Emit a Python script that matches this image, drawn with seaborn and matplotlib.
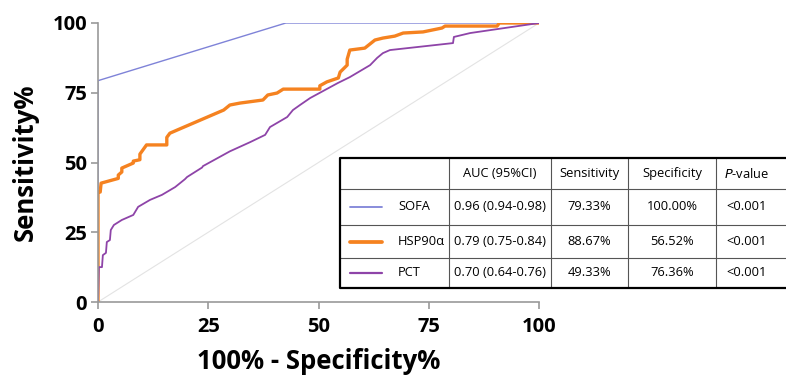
import pandas as pd
import numpy as np
import matplotlib
matplotlib.use("Agg")
import matplotlib.pyplot as plt
import seaborn as sns

sns.set_style("ticks")
plt.rcParams["font.family"] = ["Open Sans", "DejaVu Sans"]
plt.rcParams["text.color"] = "black"
plt.rcParams["axes.labelcolor"] = "black"
plt.rcParams["xtick.labelcolor"] = "black"
plt.rcParams["ytick.labelcolor"] = "black"

# ROC curve points (x = 100% - specificity, y = sensitivity)
sofa_x = [0, 0, 42.6, 100]
sofa_y = [0, 79.33, 100, 100]

hsp_x = [0, 0, 0.5, 0.7, 4.6, 4.6, 5.4, 5.4, 8.0, 8.0, 9.5, 9.5, 11.0, 11.0, 15.6, 15.6,
         16.3, 17.9, 28.5, 29.9, 32.2, 37.4, 38.5, 40.6, 42.0, 50.3, 50.3, 51.9, 54.5,
         54.9, 56.5, 56.5, 57.1, 60.5, 62.8, 64.6, 67.3, 69.2, 73.7, 78.0, 78.7, 90.5, 91.0, 100]
hsp_y = [0, 39.4, 39.4, 42.6, 44.3, 45.5, 46.6, 48.0, 49.8, 50.5, 51.0, 53.0, 56.3, 56.3, 56.3, 59.0,
         60.5, 61.6, 68.8, 70.6, 71.3, 72.4, 74.2, 74.9, 76.3, 76.3, 77.5, 78.9, 80.3,
         82.4, 84.9, 87.0, 90.3, 91.0, 93.9, 94.6, 95.3, 96.4, 96.8, 98.2, 98.9, 98.9, 100, 100]

pct_x = [0, 0.2, 0.9, 1.1, 1.8, 2.0, 2.7, 2.9, 3.6, 5.4, 8.0, 9.1, 11.8, 14.5, 17.5, 19.7,
         20.2, 23.6, 23.8, 29.9, 34.5, 37.9, 39.0, 42.9, 44.2, 45.8, 48.1, 54.4, 57.1,
         61.7, 63.3, 64.6, 66.2, 80.5, 80.7, 84.4, 100]
pct_y = [0, 12.5, 12.5, 16.8, 17.6, 21.5, 22.2, 25.8, 27.6, 29.4, 31.2, 34.1, 36.6, 38.4, 41.2, 44.0,
         44.8, 48.2, 48.7, 54.0, 57.3, 59.9, 62.7, 66.3, 68.8, 70.6, 73.1, 78.5, 80.6,
         84.9, 87.5, 89.2, 90.3, 92.8, 95.0, 96.4, 100]

ref_x = [0, 100]
ref_y = [0, 100]

# table contents
names = ["SOFA", "HSP90\u03b1", "PCT"]
colors = ["#7f83d8", "#f58220", "#8e44a8"]
widths = [1.0, 2.4, 1.3]
auc_ci = ["0.96 (0.94-0.98)", "0.79 (0.75-0.84)", "0.70 (0.64-0.76)"]
sens = ["79.33%", "88.67%", "49.33%"]
spec = ["100.00%", "56.52%", "76.36%"]
pvals = ["<0.001", "<0.001", "<0.001"]
headers = ["AUC (95%CI)", "Sensitivity", "Specificity"]

W, H = 786, 377
fig = plt.figure(figsize=(W / 100, H / 100), dpi=100)
ax = fig.add_axes([98 / W, 1 - 302 / H, (539 - 98) / W, (302 - 23) / H])

sns.lineplot(x=ref_x, y=ref_y, ax=ax, color="#e3e3e3", linewidth=0.8, sort=False, estimator=None)
curves = [(sofa_x, sofa_y), (hsp_x, hsp_y), (pct_x, pct_y)]
for (cx, cy), c, lw in zip(curves, colors, widths):
    sns.lineplot(x=cx, y=cy, ax=ax, color=c, linewidth=lw, sort=False, estimator=None)

ax.set_xlim(0, 100)
ax.set_ylim(0, 100)
ax.set_xticks([0, 25, 50, 75, 100])
ax.set_yticks([0, 25, 50, 75, 100])
for lab in ax.get_xticklabels() + ax.get_yticklabels():
    lab.set_fontweight("bold")
ax.tick_params(labelsize=14.5, color="#999999", length=5, width=1.2, pad=3)
ax.tick_params(axis="x", pad=6)
for s in ["top", "right"]:
    ax.spines[s].set_visible(False)
for s in ["left", "bottom"]:
    ax.spines[s].set_color("#999999")
    ax.spines[s].set_linewidth(1.2)
ax.set_xlabel("100% - Specificity%", fontsize=18.5, fontweight="bold", labelpad=8)
ax.set_ylabel("Sensitivity%", fontsize=18.5, fontweight="bold", labelpad=10)
ax.set_facecolor("white")

# table drawn in its own axes, in pixel units
tax = fig.add_axes([0, 0, 1, 1], facecolor="none")
tax.set_xlim(0, W)
tax.set_ylim(H, 0)
tax.axis("off")

col_x = [340, 449, 551, 628, 716, 786]
row_y = [158, 189, 225, 258, 288]
for x in col_x[1:-1]:
    tax.plot([x, x], [row_y[0], row_y[-1]], color="#555555", linewidth=0.8)
for y in row_y[1:-1]:
    tax.plot([col_x[0], col_x[-1]], [y, y], color="#555555", linewidth=0.8)
tax.plot([col_x[-1], col_x[0], col_x[0], col_x[-1]],
         [row_y[0], row_y[0], row_y[-1], row_y[-1]], color="black", linewidth=1.6)

fs = 9.3
hy = (row_y[0] + row_y[1]) / 2
for i, h in enumerate(headers):
    tax.text((col_x[i + 1] + col_x[i + 2]) / 2, hy, h, ha="center", va="center", fontsize=fs)
tax.text((col_x[4] + col_x[5]) / 2 - 4, hy, "$\\it{P}$-value", ha="center", va="center", fontsize=fs)

for r in range(3):
    cy = (row_y[r + 1] + row_y[r + 2]) / 2
    tax.plot([350, 382], [cy, cy], color=colors[r], linewidth=widths[r] + 0.3)
    tax.text(398, cy, names[r], ha="left", va="center", fontsize=fs)
    tax.text((col_x[1] + col_x[2]) / 2, cy, auc_ci[r], ha="center", va="center", fontsize=fs)
    tax.text((col_x[2] + col_x[3]) / 2, cy, sens[r], ha="center", va="center", fontsize=fs)
    tax.text((col_x[3] + col_x[4]) / 2, cy, spec[r], ha="center", va="center", fontsize=fs)
    tax.text((col_x[4] + col_x[5]) / 2 - 4, cy, pvals[r], ha="center", va="center", fontsize=fs)

fig.savefig("out.png", dpi=100, facecolor="white")
